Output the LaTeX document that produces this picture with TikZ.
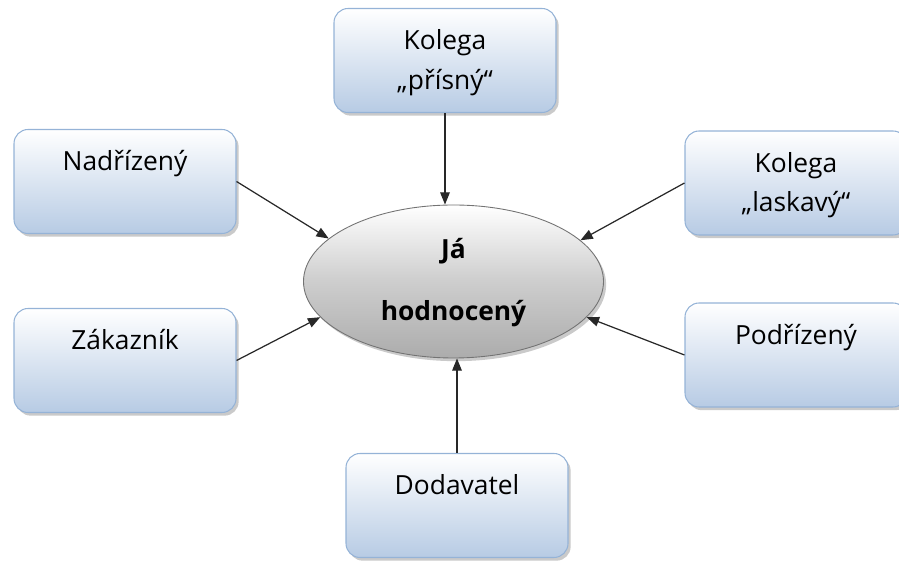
\documentclass[tikz,border=0pt]{standalone}
\usepackage{fontspec}
\setmainfont{Open Sans}
\definecolor{boxblue}{RGB}{183,203,228}
\definecolor{boxline}{RGB}{149,179,215}
\definecolor{ovalgray}{RGB}{172,172,172}
\definecolor{arrowgray}{RGB}{40,40,40}
\usetikzlibrary{arrows.meta,positioning,shapes.geometric,shadows}

\tikzset{
  rolebox/.style={draw=boxline, line width=0.6pt, rounded corners=8pt,
    top color=white, bottom color=boxblue, middle color=white!50!boxblue,
    minimum width=4.44cm, minimum height=2.08cm, inner sep=0pt,
    drop shadow={shadow xshift=1.5pt, shadow yshift=-1.8pt, opacity=0.35, fill=black!60}},
  selfoval/.style={ellipse, draw=black!55, line width=0.5pt,
    top color=white, bottom color=ovalgray, middle color=white!40!ovalgray,
    minimum width=6cm, minimum height=3.06cm, inner sep=0pt,
    drop shadow={shadow xshift=1.5pt, shadow yshift=-1.8pt, opacity=0.35, fill=black!60},
    font=\fontsize{15}{22.7}\selectfont\bfseries},
  feedarrow/.style={draw=arrowgray, line width=0.7pt, -{Triangle[length=7pt,width=5.5pt]}}
}
\newcommand{\boxtext}[1]{\parbox[c][2.08cm][t]{4.3cm}{\centering\fontsize{15}{22.7}\selectfont\vspace*{0.42cm}#1}}

\begin{document}
\begin{tikzpicture}
  \useasboundingbox (0,0) rectangle (17.98,11.26);

  % Center
  \node[selfoval] (ja) at (9.07,5.63)
    {\raisebox{-0.24cm}{\begin{tabular}{@{}c@{}}Já\\[0.46cm]hodnocený\end{tabular}}};

  % Boxes around
  \node[rolebox] (prisny) at (8.90,10.05) {\boxtext{Kolega\\„přísný“}};
  \node[rolebox] (nadrizeny) at (2.50,7.63) {\boxtext{Nadřízený}};
  \node[rolebox] (laskavy) at (15.92,7.60) {\boxtext{Kolega\\„laskavý“}};
  \node[rolebox] (zakaznik) at (2.50,4.05) {\boxtext{Zákazník}};
  \node[rolebox] (podrizeny) at (15.92,4.16) {\boxtext{Podřízený}};
  \node[rolebox] (dodavatel) at (9.14,1.15) {\boxtext{Dodavatel}};

  % Arrows
  \draw[feedarrow] (prisny.south) -- (prisny.south |- ja.north);
  \draw[feedarrow] (nadrizeny.east) -- (ja.161);
  \draw[feedarrow] (laskavy.west) -- (ja.18);
  \draw[feedarrow] (zakaznik.east) -- (ja.195);
  \draw[feedarrow] (podrizeny.west) -- (ja.345);
  \draw[feedarrow] (dodavatel.north) -- (dodavatel.north |- ja.south);
\end{tikzpicture}
\end{document}
